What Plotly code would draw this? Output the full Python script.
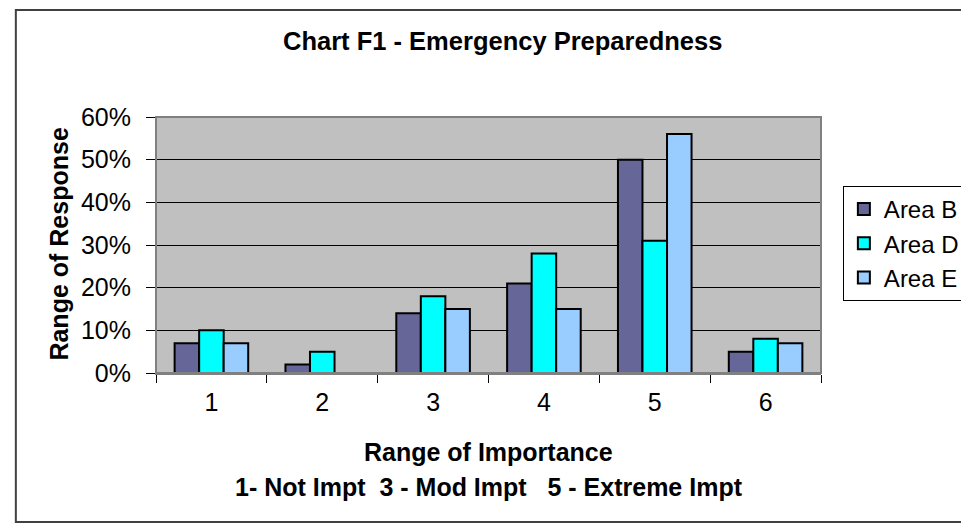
import plotly.graph_objects as go

categories = ["1", "2", "3", "4", "5", "6"]
area_b = [0.07, 0.02, 0.14, 0.21, 0.50, 0.05]
area_d = [0.10, 0.05, 0.18, 0.28, 0.31, 0.08]
area_e = [0.07, 0.00, 0.15, 0.15, 0.56, 0.07]
series_names = ["Area B", "Area D", "Area E"]
series_colors = ["#666699", "#00FFFF", "#99CCFF"]
y_ticks = [0, 0.1, 0.2, 0.3, 0.4, 0.5, 0.6]

W, H = 969, 523
L, R, T, B = 148, 817, 109, 365  # plot area pixels
pw, ph = R - L, B - T

def px_x(x):
    return (x - L) / pw

def px_y(y):
    return (B - y) / ph

FONT = "Arial, Liberation Sans, sans-serif"

fig = go.Figure()
for name, vals, col in zip(series_names, [area_b, area_d, area_e], series_colors):
    fig.add_trace(go.Bar(
        x=categories, y=vals, name=name,
        marker=dict(color=col, line=dict(color="black", width=2)),
    ))

fig.update_layout(
    width=W, height=H,
    margin=dict(l=L, r=W - R, t=T, b=H - B, pad=0),
    paper_bgcolor="white",
    plot_bgcolor="#C0C0C0",
    barmode="group", bargap=0.336, bargroupgap=0,
    font=dict(family=FONT, size=25, color="black"),
    showlegend=True,
    legend=dict(
        x=px_x(839), y=px_y(178), xanchor="left", yanchor="top",
        bgcolor="white", bordercolor="black", borderwidth=1,
        font=dict(family=FONT, size=24, color="black"),
        itemwidth=30, traceorder="normal",
    ),
    xaxis=dict(
        type="category", showgrid=False, showline=True,
        linecolor="#808080", linewidth=2, mirror=False,
        ticks="outside", tickson="boundaries", ticklen=8, tickcolor="black",
        tickfont=dict(size=25), ticklabelstandoff=6,
    ),
    yaxis=dict(
        range=[0, 0.6], tickvals=y_ticks, tickformat=".0%",
        showgrid=True, gridcolor="black", gridwidth=1,
        showline=True, linecolor="black", linewidth=1,
        ticks="outside", ticklen=9, tickcolor="black",
        tickfont=dict(size=25), zeroline=False, ticklabelstandoff=10,
    ),
    shapes=[
        dict(type="rect", xref="paper", yref="paper", x0=0, x1=1, y0=0, y1=1,
             line=dict(color="#808080", width=2), layer="above"),
        dict(type="rect", xref="paper", yref="paper",
             x0=px_x(7), x1=px_x(967), y0=px_y(514), y1=px_y(2),
             line=dict(color="#404040", width=2), layer="above"),
    ],
    annotations=[
        dict(text="<b>Chart F1 - Emergency Preparedness</b>", xref="paper", yref="paper",
             x=px_x(497), y=px_y(33), xanchor="center", yanchor="middle",
             showarrow=False, font=dict(size=25.5)),
        dict(text="<b>Range of Response</b>", xref="paper", yref="paper",
             x=px_x(50), y=px_y(236), xanchor="center", yanchor="middle",
             textangle=-90, showarrow=False, font=dict(size=25)),
        dict(text="<b>Range of Importance</b>", xref="paper", yref="paper",
             x=px_x(483), y=px_y(444), xanchor="center", yanchor="middle",
             showarrow=False, font=dict(size=25)),
        dict(text="<b>1- Not Impt\u00a0\u00a03 - Mod Impt\u00a0\u00a0\u00a05 - Extreme Impt</b>",
             xref="paper", yref="paper",
             x=px_x(483), y=px_y(479), xanchor="center", yanchor="middle",
             showarrow=False, font=dict(size=25)),
    ],
)

fig.write_html("out.html")
